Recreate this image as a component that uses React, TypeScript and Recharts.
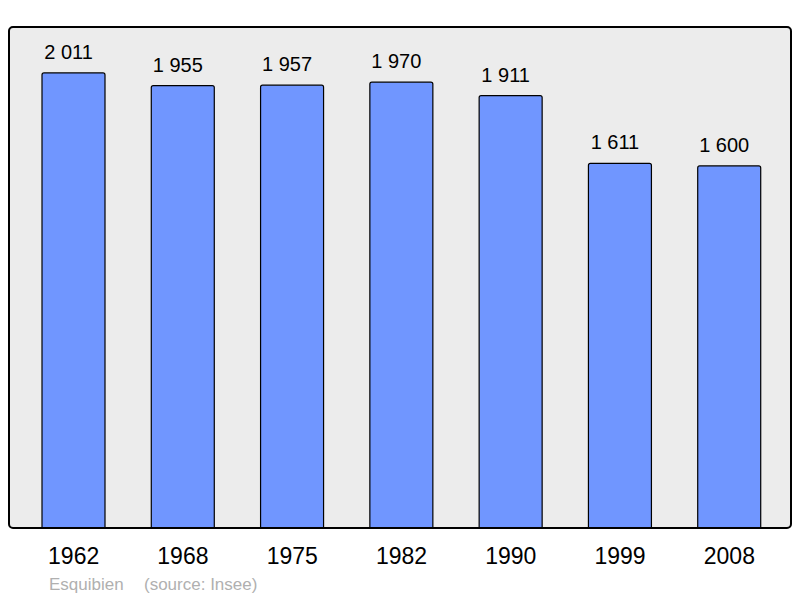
import React from 'react';
import { BarChart, Bar, XAxis, YAxis, LabelList } from 'recharts';

const years = ['1962', '1968', '1975', '1982', '1990', '1999', '2008'];
const population = [2011, 1955, 1957, 1970, 1911, 1611, 1600];
const author = 'Esquibien';
const source = '(source: Insee)';

const data = years.map((y, i) => ({ year: y, pop: population[i] }));

const fmt = (v: number) => String(v).replace(/\B(?=(\d{3})+(?!\d))/g, ' ');

const FONT = '"Liberation Sans", Arial, sans-serif';

const renderLabel = (props: any) => {
  const { x, y, width, value } = props;
  return (
    <text
      x={Number(x) + Number(width) / 2 - 5}
      y={Number(y) - 14}
      textAnchor="middle"
      fill="#000"
      fontSize={20}
      fontFamily={FONT}
    >
      {fmt(Number(value))}
    </text>
  );
};

export default function App() {
  return (
    <div style={{ position: 'absolute', left: 0, top: 0, width: 800, height: 598, fontFamily: FONT }}>
      <div
        style={{
          position: 'absolute',
          left: 8,
          top: 26,
          width: 784,
          height: 503,
          boxSizing: 'border-box',
          background: '#ececec',
          borderRadius: 5,
          zIndex: 0,
        }}
      />
      <div style={{ position: 'absolute', left: 0, top: 0, zIndex: 1 }}>
        <BarChart
          width={800}
          height={598}
          data={data}
          margin={{ top: 27, left: 9, right: 9, bottom: 0 }}
          barCategoryGap={0}
        >
          <XAxis
            dataKey="year"
            height={70}
            axisLine={false}
            tickLine={false}
            tickSize={0}
            tickMargin={20}
            padding={{ left: 10, right: 7 }}
            tick={{ fill: '#000', fontSize: 23, fontFamily: FONT }}
            interval={0}
          />
          <YAxis hide domain={[0, 2214]} />
          <Bar
            dataKey="pop"
            fill="#7096ff"
            stroke="#000"
            strokeWidth={1.2}
            barSize={63}
            radius={[2, 2, 0, 0]}
            isAnimationActive={false}
          >
            <LabelList dataKey="pop" content={renderLabel} />
          </Bar>
        </BarChart>
      </div>
      <div
        style={{
          position: 'absolute',
          left: 8,
          top: 26,
          width: 784,
          height: 503,
          boxSizing: 'border-box',
          border: '2px solid #000',
          borderRadius: 5,
          zIndex: 2,
          pointerEvents: 'none',
        }}
      />
      <div style={{ position: 'absolute', left: 49, top: 575, fontSize: 17, color: '#b0b0b0', zIndex: 3, whiteSpace: 'nowrap' }}>
        {author}
      </div>
      <div style={{ position: 'absolute', left: 144, top: 575, fontSize: 17, color: '#b0b0b0', zIndex: 3, whiteSpace: 'nowrap' }}>
        {source}
      </div>
    </div>
  );
}
